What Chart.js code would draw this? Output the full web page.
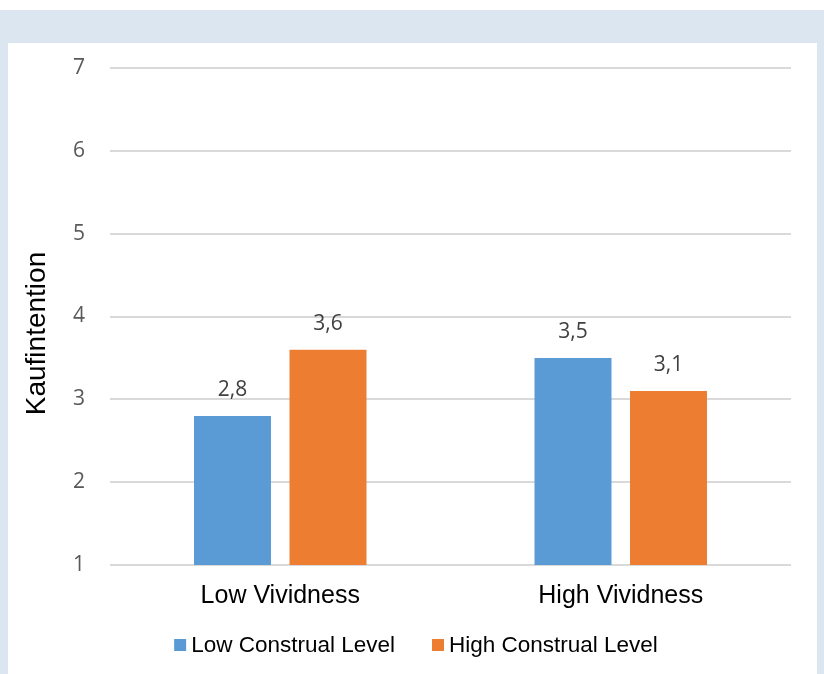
<!DOCTYPE html>
<html>
<head>
<meta charset="utf-8">
<script src="https://cdn.jsdelivr.net/npm/chart.js@4/dist/chart.umd.min.js"></script>
<style>
  html, body { margin: 0; padding: 0; background: #ffffff; }
  body { width: 824px; height: 674px; position: relative; overflow: hidden; }
  #frame { position: absolute; left: 0; top: 10px; width: 824px; height: 664px; background: #dce6f1; }
  #panel { position: absolute; left: 8px; top: 43px; width: 809px; height: 631px; background: #ffffff; }
  #wrap { position: absolute; left: 0; top: 0; width: 824px; height: 674px; }
</style>
</head>
<body>
<div id="frame"></div>
<div id="panel"></div>
<div id="wrap"><canvas id="chart" width="824" height="674"></canvas></div>
<script>
// Purchase intention by vividness and construal level
const categories = ['Low Vividness', 'High Vividness'];
const seriesNames = ['Low Construal Level', 'High Construal Level'];
const lowConstrual = [2.8, 3.5];
const highConstrual = [3.6, 3.1];
const yTicks = [1, 2, 3, 4, 5, 6, 7];
const axisTitle = 'Kaufintention';

const seriesColors = ['#5b9bd5', '#ed7d31'];
const sansFont = '"Liberation Sans", Arial, sans-serif';

function formatValue(v) {
  return v.toFixed(1).replace('.', ',');
}

// value labels above each bar
const valueLabels = {
  id: 'valueLabels',
  afterDatasetsDraw(chart) {
    const ctx = chart.ctx;
    ctx.save();
    ctx.font = '21px "Open Sans"';
    ctx.fillStyle = '#404040';
    ctx.textAlign = 'center';
    ctx.textBaseline = 'alphabetic';
    chart.data.datasets.forEach((ds, di) => {
      chart.getDatasetMeta(di).data.forEach((bar, i) => {
        ctx.fillText(formatValue(ds.data[i]), bar.x, bar.y - 20);
      });
    });
    ctx.restore();
  }
};

// rotated y-axis title, sitting a little below the plot's midline
const yTitle = {
  id: 'yTitle',
  afterDraw(chart) {
    const ctx = chart.ctx;
    const area = chart.chartArea;
    ctx.save();
    ctx.translate(37, (area.top + area.bottom) / 2 + 17);
    ctx.rotate(-Math.PI / 2);
    ctx.font = '28px ' + sansFont;
    ctx.fillStyle = '#000000';
    ctx.textAlign = 'center';
    ctx.textBaseline = 'middle';
    ctx.fillText(axisTitle, 0, 0);
    ctx.restore();
  }
};

// legend row with small square swatches, centred under the plot
const squareLegend = {
  id: 'squareLegend',
  afterDraw(chart) {
    const ctx = chart.ctx;
    ctx.save();
    ctx.font = '22.5px ' + sansFont;
    ctx.textBaseline = 'middle';
    ctx.textAlign = 'left';
    const box = 12, gap = 5, itemGap = 37;
    const items = chart.data.datasets.map(ds => ({
      label: ds.label, color: ds.backgroundColor, w: ctx.measureText(ds.label).width
    }));
    let total = 0;
    items.forEach((it, i) => { total += box + gap + it.w + (i ? itemGap : 0); });
    let x = chart.width / 2 + 4 - total / 2;
    const cy = 645;
    items.forEach((it, i) => {
      if (i) x += itemGap;
      ctx.fillStyle = it.color;
      ctx.fillRect(x, cy - box / 2, box, box);
      x += box + gap;
      ctx.fillStyle = '#000000';
      ctx.fillText(it.label, x, cy + 1);
      x += it.w;
    });
    ctx.restore();
  }
};

new Chart(document.getElementById('chart'), {
  type: 'bar',
  data: {
    labels: categories,
    datasets: [
      { label: seriesNames[0], data: lowConstrual, backgroundColor: seriesColors[0] },
      { label: seriesNames[1], data: highConstrual, backgroundColor: seriesColors[1] }
    ]
  },
  options: {
    responsive: false,
    animation: false,
    devicePixelRatio: 1,
    layout: { padding: { left: 0, right: 33, top: 68, bottom: 0 } },
    datasets: { bar: { categoryPercentage: 0.561, barPercentage: 0.806 } },
    plugins: {
      legend: { display: false },
      tooltip: { enabled: false }
    },
    scales: {
      x: {
        grid: { display: false, drawTicks: false },
        border: { display: false },
        ticks: {
          color: '#000000',
          font: { family: sansFont, size: 25 },
          padding: 16
        },
        afterFit(scale) { scale.height = 109; }
      },
      y: {
        min: 1,
        max: 7,
        afterBuildTicks(scale) { scale.ticks = yTicks.map(v => ({ value: v })); },
        grid: { color: '#d9d9d9', lineWidth: 2, drawTicks: false },
        border: { display: false },
        ticks: {
          color: '#595959',
          font: { family: '"Open Sans"', size: 21 },
          padding: 25
        },
        afterFit(scale) { scale.width = 110; }
      }
    }
  },
  plugins: [valueLabels, yTitle, squareLegend]
});
</script>
</body>
</html>
